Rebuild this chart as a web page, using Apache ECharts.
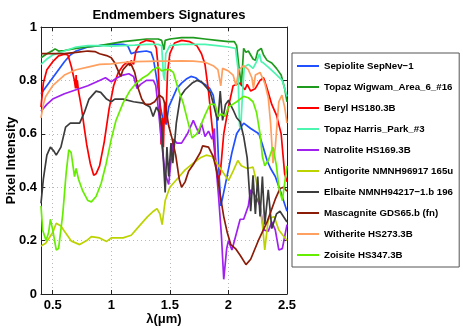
<!DOCTYPE html>
<html>
<head>
<meta charset="utf-8">
<script src="https://cdn.jsdelivr.net/npm/echarts@6/dist/echarts.min.js"></script>
<style>
  html, body { margin: 0; padding: 0; background: #fff; }
  #chart { width: 463px; height: 329px; }
</style>
</head>
<body>
<div id="chart"></div>
<script>
// spectra: [wavelength (um), intensity]
const sepiolite = [[0.4,0.75],[0.45,0.78],[0.5,0.81],[0.55,0.84],[0.6,0.87],[0.65,0.895],[0.7,0.91],[0.8,0.925],[0.9,0.93],[1.0,0.935],[1.1,0.935],[1.14,0.93],[1.17,0.9],[1.2,0.905],[1.3,0.91],[1.34,0.905],[1.36,0.88],[1.39,0.8],[1.42,0.7],[1.44,0.655],[1.47,0.635],[1.49,0.7],[1.52,0.73],[1.56,0.77],[1.6,0.79],[1.64,0.805],[1.68,0.815],[1.72,0.81],[1.76,0.795],[1.8,0.785],[1.84,0.77],[1.87,0.745],[1.9,0.66],[1.92,0.45],[1.935,0.33],[1.95,0.36],[1.99,0.445],[2.03,0.53],[2.07,0.6],[2.13,0.64],[2.19,0.62],[2.26,0.6],[2.29,0.56],[2.33,0.5],[2.36,0.47],[2.4,0.44],[2.44,0.39],[2.47,0.35],[2.5,0.31]];
const topazWigwam = [[0.4,0.885],[0.45,0.9],[0.5,0.912],[0.52,0.918],[0.55,0.91],[0.6,0.912],[0.7,0.92],[0.8,0.925],[0.9,0.93],[1.0,0.938],[1.1,0.945],[1.2,0.95],[1.3,0.955],[1.4,0.955],[1.43,0.95],[1.45,0.915],[1.46,0.95],[1.5,0.955],[1.6,0.96],[1.7,0.96],[1.8,0.955],[1.9,0.95],[2.0,0.945],[2.05,0.945],[2.07,0.93],[2.09,0.85],[2.11,0.78],[2.13,0.92],[2.15,0.905],[2.17,0.91],[2.21,0.88],[2.23,0.875],[2.25,0.91],[2.28,0.92],[2.3,0.895],[2.33,0.875],[2.37,0.865],[2.41,0.845],[2.45,0.82],[2.48,0.77],[2.5,0.72]];
const beryl = [[0.4,0.7],[0.42,0.79],[0.45,0.84],[0.5,0.87],[0.55,0.892],[0.6,0.898],[0.63,0.895],[0.66,0.85],[0.685,0.8],[0.695,0.77],[0.7,0.82],[0.705,0.77],[0.71,0.8],[0.72,0.76],[0.745,0.7],[0.77,0.62],[0.79,0.56],[0.82,0.49],[0.85,0.445],[0.87,0.45],[0.9,0.48],[0.94,0.57],[0.98,0.69],[1.02,0.78],[1.06,0.83],[1.1,0.855],[1.14,0.87],[1.16,0.855],[1.17,0.875],[1.19,0.86],[1.21,0.91],[1.25,0.94],[1.3,0.95],[1.36,0.945],[1.385,0.92],[1.4,0.85],[1.415,0.7],[1.425,0.56],[1.435,0.66],[1.445,0.55],[1.455,0.72],[1.465,0.64],[1.48,0.83],[1.5,0.9],[1.54,0.94],[1.6,0.95],[1.67,0.945],[1.73,0.93],[1.77,0.9],[1.8,0.86],[1.83,0.76],[1.86,0.63],[1.89,0.5],[1.91,0.43],[1.93,0.45],[1.96,0.6],[2.0,0.7],[2.04,0.78],[2.1,0.79],[2.14,0.765],[2.16,0.785],[2.19,0.76],[2.23,0.77],[2.27,0.8],[2.3,0.81],[2.33,0.77],[2.37,0.71],[2.41,0.67],[2.45,0.6],[2.48,0.45],[2.5,0.42]];
const topazHarris = [[0.4,0.86],[0.45,0.88],[0.5,0.895],[0.6,0.91],[0.7,0.925],[0.8,0.93],[0.9,0.93],[1.0,0.928],[1.1,0.93],[1.2,0.932],[1.3,0.935],[1.4,0.935],[1.43,0.93],[1.445,0.82],[1.455,0.8],[1.465,0.9],[1.5,0.93],[1.6,0.935],[1.7,0.935],[1.8,0.935],[1.9,0.93],[2.0,0.925],[2.06,0.92],[2.08,0.85],[2.095,0.63],[2.105,0.62],[2.12,0.75],[2.135,0.85],[2.17,0.86],[2.21,0.845],[2.24,0.87],[2.265,0.9],[2.28,0.87],[2.3,0.865],[2.34,0.85],[2.4,0.825],[2.46,0.8],[2.5,0.74]];
const natrolite = [[0.4,0.685],[0.45,0.71],[0.5,0.73],[0.6,0.75],[0.7,0.765],[0.8,0.78],[0.9,0.8],[0.95,0.81],[1.0,0.795],[1.05,0.81],[1.1,0.82],[1.15,0.825],[1.19,0.815],[1.22,0.77],[1.25,0.785],[1.3,0.8],[1.36,0.8],[1.38,0.78],[1.4,0.7],[1.43,0.565],[1.46,0.45],[1.49,0.41],[1.51,0.5],[1.53,0.58],[1.56,0.565],[1.6,0.565],[1.65,0.6],[1.7,0.65],[1.72,0.63],[1.75,0.6],[1.77,0.64],[1.8,0.59],[1.83,0.61],[1.86,0.58],[1.88,0.62],[1.89,0.5],[1.915,0.37],[1.94,0.22],[1.96,0.055],[1.985,0.17],[2.0,0.2],[2.03,0.165],[2.07,0.23],[2.1,0.28],[2.13,0.28],[2.17,0.33],[2.19,0.39],[2.21,0.38],[2.24,0.36],[2.27,0.33],[2.3,0.24],[2.34,0.235],[2.37,0.27],[2.4,0.24],[2.43,0.165],[2.46,0.17],[2.5,0.26]];
const antigorite = [[0.4,0.18],[0.44,0.19],[0.5,0.23],[0.53,0.265],[0.57,0.255],[0.6,0.235],[0.66,0.198],[0.73,0.185],[0.79,0.2],[0.83,0.215],[0.9,0.21],[0.96,0.197],[1.0,0.21],[1.1,0.21],[1.17,0.22],[1.21,0.24],[1.27,0.27],[1.31,0.29],[1.36,0.31],[1.39,0.32],[1.415,0.3],[1.434,0.26],[1.46,0.35],[1.5,0.4],[1.56,0.43],[1.63,0.465],[1.7,0.49],[1.76,0.51],[1.81,0.52],[1.86,0.515],[1.9,0.49],[1.94,0.465],[2.0,0.425],[2.04,0.46],[2.08,0.5],[2.11,0.48],[2.16,0.47],[2.21,0.475],[2.25,0.4],[2.29,0.26],[2.31,0.165],[2.34,0.28],[2.39,0.29],[2.43,0.24],[2.5,0.2]];
const elbaite = [[0.4,0.34],[0.42,0.43],[0.45,0.52],[0.48,0.55],[0.51,0.535],[0.53,0.52],[0.57,0.55],[0.61,0.625],[0.65,0.64],[0.73,0.64],[0.77,0.68],[0.81,0.73],[0.87,0.76],[0.91,0.755],[0.96,0.73],[1.0,0.72],[1.03,0.73],[1.1,0.73],[1.19,0.72],[1.27,0.715],[1.33,0.7],[1.357,0.665],[1.386,0.7],[1.41,0.68],[1.43,0.63],[1.445,0.5],[1.46,0.38],[1.475,0.55],[1.49,0.44],[1.51,0.565],[1.525,0.49],[1.555,0.64],[1.59,0.74],[1.63,0.765],[1.69,0.79],[1.73,0.8],[1.77,0.795],[1.81,0.775],[1.845,0.755],[1.87,0.715],[1.89,0.68],[1.91,0.65],[1.93,0.76],[1.95,0.65],[1.975,0.71],[2.0,0.725],[2.04,0.69],[2.07,0.66],[2.1,0.645],[2.13,0.59],[2.16,0.51],[2.19,0.31],[2.21,0.445],[2.23,0.3],[2.25,0.44],[2.27,0.29],[2.29,0.44],[2.31,0.26],[2.34,0.39],[2.37,0.245],[2.41,0.3],[2.44,0.31],[2.5,0.27]];
const mascagnite = [[0.4,0.9],[0.5,0.9],[0.6,0.9],[0.7,0.905],[0.8,0.91],[0.86,0.908],[0.9,0.9],[0.96,0.893],[1.0,0.885],[1.03,0.865],[1.06,0.835],[1.08,0.815],[1.1,0.84],[1.14,0.86],[1.17,0.86],[1.2,0.83],[1.23,0.77],[1.26,0.73],[1.29,0.71],[1.33,0.71],[1.37,0.72],[1.41,0.745],[1.44,0.735],[1.46,0.71],[1.49,0.63],[1.52,0.58],[1.55,0.52],[1.58,0.43],[1.6,0.4],[1.63,0.42],[1.66,0.46],[1.7,0.485],[1.76,0.53],[1.78,0.555],[1.83,0.55],[1.87,0.515],[1.9,0.46],[1.93,0.37],[1.96,0.29],[1.99,0.23],[2.02,0.185],[2.06,0.17],[2.1,0.145],[2.15,0.11],[2.19,0.13],[2.26,0.205],[2.33,0.27],[2.4,0.355],[2.44,0.395],[2.47,0.4],[2.5,0.385]];
const witherite = [[0.4,0.66],[0.42,0.71],[0.44,0.74],[0.5,0.78],[0.6,0.82],[0.7,0.84],[0.8,0.85],[0.9,0.86],[1.0,0.862],[1.1,0.867],[1.2,0.87],[1.3,0.871],[1.4,0.872],[1.5,0.872],[1.6,0.873],[1.7,0.872],[1.8,0.868],[1.87,0.855],[1.91,0.84],[1.935,0.78],[1.95,0.845],[2.0,0.835],[2.04,0.82],[2.065,0.78],[2.09,0.84],[2.13,0.855],[2.17,0.84],[2.2,0.81],[2.214,0.77],[2.23,0.82],[2.27,0.83],[2.31,0.79],[2.34,0.735],[2.36,0.64],[2.38,0.49],[2.4,0.55],[2.43,0.72],[2.457,0.745],[2.48,0.7],[2.5,0.64]];
const zoisite = [[0.4,0.33],[0.414,0.24],[0.443,0.2],[0.465,0.23],[0.48,0.28],[0.5,0.24],[0.53,0.165],[0.55,0.17],[0.586,0.3],[0.614,0.45],[0.637,0.54],[0.657,0.53],[0.686,0.44],[0.7,0.47],[0.72,0.43],[0.757,0.385],[0.8,0.35],[0.83,0.345],[0.87,0.365],[0.914,0.415],[0.957,0.49],[1.0,0.58],[1.04,0.65],[1.1,0.715],[1.157,0.76],[1.214,0.79],[1.27,0.81],[1.31,0.82],[1.357,0.84],[1.4,0.85],[1.43,0.835],[1.457,0.84],[1.5,0.84],[1.53,0.83],[1.57,0.77],[1.614,0.715],[1.657,0.64],[1.69,0.585],[1.73,0.6],[1.757,0.625],[1.8,0.67],[1.843,0.71],[1.886,0.71],[1.914,0.665],[1.94,0.675],[1.97,0.665],[2.0,0.7],[2.07,0.72],[2.13,0.74],[2.17,0.735],[2.21,0.72],[2.24,0.68],[2.27,0.6],[2.29,0.515],[2.31,0.48],[2.34,0.5],[2.38,0.55],[2.41,0.48],[2.43,0.4],[2.46,0.35],[2.5,0.48]];

const seriesNames = ['Sepiolite SepNev\u22121', 'Topaz Wigwam_Area_6_#16', 'Beryl HS180.3B', 'Topaz Harris_Park_#3', 'Natrolite HS169.3B', 'Antigorite NMNH96917 165u', 'Elbaite NMNH94217\u22121.b 196', 'Mascagnite GDS65.b (fn)', 'Witherite HS273.3B', 'Zoisite HS347.3B'];
const seriesData = [sepiolite, topazWigwam, beryl, topazHarris, natrolite, antigorite, elbaite, mascagnite, witherite, zoisite];
const seriesColors = ['#2050ff', '#1e9a1e', '#ff0000', '#4cf5b0', '#a020f0', '#bdd300', '#3c3c3c', '#8c1c08', '#ffa060', '#66ee00'];
const xTicks = [0.5, 1, 1.5, 2, 2.5];

const FONT = 'Liberation Sans, Arial, Helvetica, sans-serif';
const chart = echarts.init(document.getElementById('chart'), null, { renderer: 'canvas' });

const gridLine = { show: true, lineStyle: { color: '#b8b8b8', type: [1, 3], width: 1 } };
const labelStyle = { color: '#000', fontFamily: FONT, fontWeight: 'bold', fontSize: 13 };

chart.setOption({
    animation: false,
    backgroundColor: '#fff',
    title: {
        text: 'Endmembers Signatures',
        left: 164,
        top: 4,
        textAlign: 'center',
        textStyle: { fontFamily: FONT, fontWeight: 'bold', fontSize: 13, color: '#000' }
    },
    legend: {
        orient: 'vertical',
        left: 292,
        top: 53,
        padding: [7, 6, 6, 5],
        backgroundColor: '#fff',
        borderColor: '#555',
        borderWidth: 1,
        icon: 'rect',
        itemWidth: 22,
        itemHeight: 2,
        itemGap: 9,
        textStyle: { fontFamily: FONT, fontWeight: 'bold', fontSize: 9.7, color: '#000', lineHeight: 12 },
        data: seriesNames
    },
    grid: { left: 41, right: 176, top: 27, bottom: 35, outerBoundsMode: 'none', containLabel: false },
    xAxis: [{
        type: 'value',
        min: 0.4,
        max: 2.5,
        name: '\u03bb(\u03bcm)',
        nameLocation: 'middle',
        nameGap: 19,
        nameMoveOverlap: false,
        nameTextStyle: labelStyle,
        axisLine: { show: true, onZero: false, lineStyle: { color: '#222', width: 1 } },
        axisTick: { show: true, inside: true, length: 4, customValues: xTicks, lineStyle: { color: '#222' } },
        axisLabel: { ...labelStyle, margin: 5, customValues: xTicks },
        splitLine: gridLine
    }, {
        type: 'value',
        position: 'top',
        min: 0.4,
        max: 2.5,
        axisLine: { show: true, onZero: false, lineStyle: { color: '#222', width: 1 } },
        axisTick: { show: true, inside: true, length: 4, customValues: xTicks, lineStyle: { color: '#222' } },
        axisLabel: { show: false },
        splitLine: { show: false }
    }],
    yAxis: [{
        type: 'value',
        min: 0,
        max: 1,
        interval: 0.2,
        name: 'Pixel Intensity',
        nameLocation: 'middle',
        nameGap: 23,
        nameMoveOverlap: false,
        nameTextStyle: labelStyle,
        axisLine: { show: true, onZero: false, lineStyle: { color: '#222', width: 1 } },
        axisTick: { show: true, inside: true, length: 4, lineStyle: { color: '#222' } },
        axisLabel: { ...labelStyle, margin: 4 },
        splitLine: gridLine
    }, {
        type: 'value',
        position: 'right',
        min: 0,
        max: 1,
        interval: 0.2,
        axisLine: { show: true, onZero: false, lineStyle: { color: '#222', width: 1 } },
        axisTick: { show: true, inside: true, length: 4, lineStyle: { color: '#222' } },
        axisLabel: { show: false },
        splitLine: { show: false }
    }],
    series: seriesNames.map((name, i) => ({
        name,
        type: 'line',
        data: seriesData[i],
        showSymbol: false,
        symbol: 'none',
        color: seriesColors[i],
        lineStyle: { width: 1.7, color: seriesColors[i] },
        z: 2 + i
    }))
});
</script>
</body>
</html>
